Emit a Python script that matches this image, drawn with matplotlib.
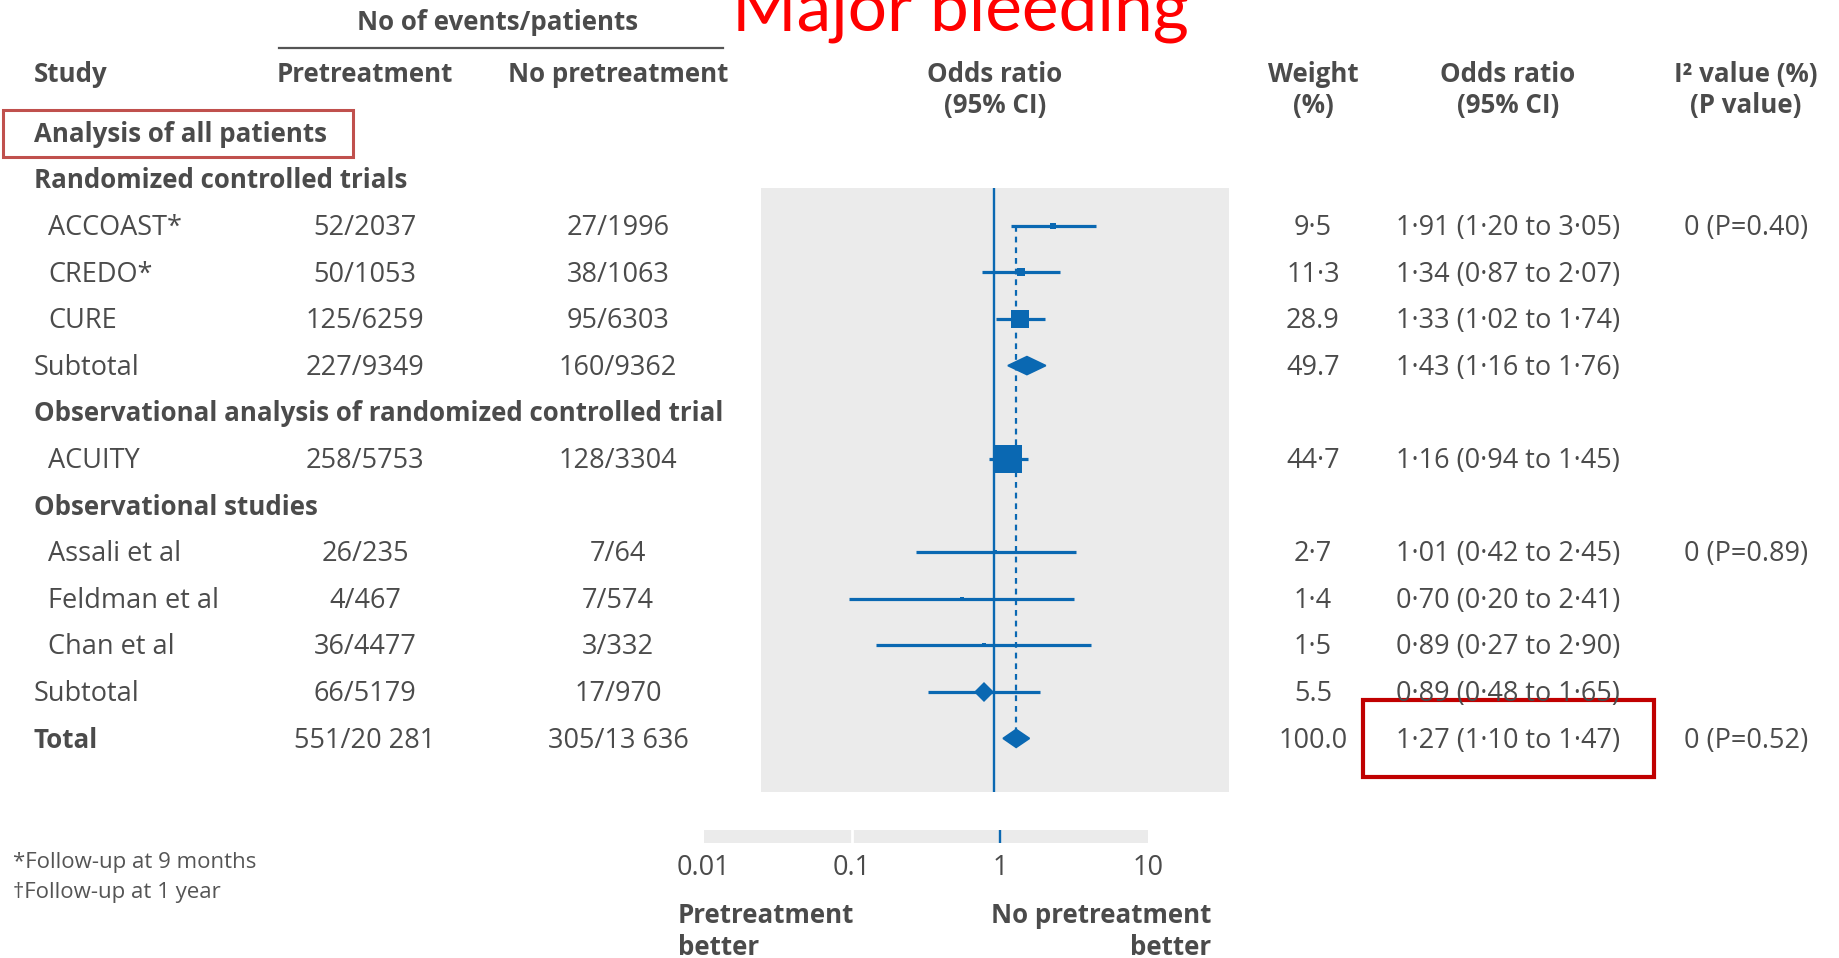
import matplotlib
matplotlib.use('Agg')
import matplotlib.pyplot as plt
from matplotlib.patches import Rectangle, Polygon

plt.rcParams['font.family'] = ['Open Sans', 'DejaVu Sans']

# rows of the table, top to bottom
row_labels = ['Analysis of all patients', 'Randomized controlled trials', 'ACCOAST*', 'CREDO*', 'CURE',
              'Subtotal', 'Observational analysis of randomized controlled trial', 'ACUITY',
              'Observational studies', 'Assali et al', 'Feldman et al', 'Chan et al', 'Subtotal', 'Total']
row_kind = ['group', 'group', 'study', 'study', 'study', 'pooled', 'group', 'study',
            'group', 'study', 'study', 'study', 'pooled_pt', 'total']
pretreat = [None, None, '52/2037', '50/1053', '125/6259', '227/9349', None, '258/5753',
            None, '26/235', '4/467', '36/4477', '66/5179', '551/20 281']
no_pretreat = [None, None, '27/1996', '38/1063', '95/6303', '160/9362', None, '128/3304',
               None, '7/64', '7/574', '3/332', '17/970', '305/13 636']
weight = [None, None, '9·5', '11·3', '28.9', '49.7', None, '44·7',
          None, '2·7', '1·4', '1·5', '5.5', '100.0']
odds = [None, None, 1.91, 1.34, 1.33, 1.43, None, 1.16, None, 1.01, 0.70, 0.89, 0.89, 1.27]
ci_low = [None, None, 1.20, 0.87, 1.02, 1.16, None, 0.94, None, 0.42, 0.20, 0.27, 0.48, 1.10]
ci_high = [None, None, 3.05, 2.07, 1.74, 1.76, None, 1.45, None, 2.45, 2.41, 2.90, 1.65, 1.47]
i2 = [None, None, '0 (P=0.40)', None, None, None, None, None,
      None, '0 (P=0.89)', None, None, None, '0 (P=0.52)']
pooled_total = 1.27

axis_ticks = [0.01, 0.1, 1, 10]
axis_labels = ['0.01', '0.1', '1', '10']

W, H = 1839, 958
blue = '#0a68b2'
grey = '#4b4b4b'
fs = 19.5
fsb = 18.6


def row_y(i):
    return 132.6 + 46.6 * i


fig = plt.figure(figsize=(W / 100, H / 100), dpi=100)
bg = fig.add_axes([0, 0, 1, 1])
bg.set_xlim(0, W)
bg.set_ylim(H, 0)
bg.axis('off')

# title (cut off at the top, as in the original)
bg.text(960, 30.5, 'Major bleeding', color='#ff0000', fontsize=50, family=['Lato', 'DejaVu Sans'],
        ha='center', va='baseline')

# column headers
hb = dict(color=grey, fontsize=fsb, fontweight='bold', va='baseline')
bg.text(498, 29.5, 'No of events/patients', ha='center', **hb)
bg.plot([279, 723], [47.5, 47.5], color='#555555', lw=1.6)
bg.text(34, 81.5, 'Study', ha='left', **hb)
bg.text(365, 81.5, 'Pretreatment', ha='center', **hb)
bg.text(618, 81.5, 'No pretreatment', ha='center', **hb)
bg.text(995, 81.5, 'Odds ratio', ha='center', **hb)
bg.text(995, 113, '(95% CI)', ha='center', **hb)
bg.text(1313, 81.5, 'Weight', ha='center', **hb)
bg.text(1313, 113, '(%)', ha='center', **hb)
bg.text(1508, 81.5, 'Odds ratio', ha='center', **hb)
bg.text(1508, 113, '(95% CI)', ha='center', **hb)
bg.text(1746, 81.5, 'I² value (%)', ha='center', **hb)
bg.text(1746, 113, '(P value)', ha='center', **hb)

# table body
for i, lab in enumerate(row_labels):
    yb = row_y(i) + 9.2
    kind = row_kind[i]
    bold = kind in ('group', 'total')
    x0 = 48 if kind == 'study' else 34
    bg.text(x0, yb, lab, color=grey, fontsize=fsb if bold else fs, va='baseline', ha='left',
            fontweight='bold' if bold else 'normal')
    if pretreat[i] is not None:
        bg.text(365, yb, pretreat[i], color=grey, fontsize=fs, va='baseline', ha='center')
        bg.text(618, yb, no_pretreat[i], color=grey, fontsize=fs, va='baseline', ha='center')
    if weight[i] is not None:
        bg.text(1313, yb, weight[i], color=grey, fontsize=fs, va='baseline', ha='center')
    if odds[i] is not None:
        s = f'{odds[i]:.2f} ({ci_low[i]:.2f} to {ci_high[i]:.2f})'.replace('.', '·')
        bg.text(1508, yb, s, color=grey, fontsize=fs, va='baseline', ha='center')
    if i2[i] is not None:
        bg.text(1746, yb, i2[i], color=grey, fontsize=fs, va='baseline', ha='center')

# highlight boxes
bg.add_patch(Rectangle((3, 110), 350, 47, fill=False, edgecolor='#c0504d', lw=2.2))
bg.add_patch(Rectangle((1363, 700), 291, 77, fill=False, edgecolor='#c00000', lw=3))

# footnotes
bg.text(13, 868, '*Follow-up at 9 months', color='#555555', fontsize=16, va='baseline')
bg.text(13, 898, '†Follow-up at 1 year', color='#555555', fontsize=16, va='baseline')

# forest panel
fx = fig.add_axes([761 / W, 1 - 792 / H, 468 / W, 604 / H])
fx.set_xscale('log')
fx.set_xlim(10 ** -1.118, 10 ** 1.123)
fx.set_ylim(792, 188)
fx.set_facecolor('#ebebeb')
for sp in fx.spines.values():
    sp.set_visible(False)
fx.set_xticks([])
fx.set_yticks([])
fx.minorticks_off()
fx.tick_params(which='both', length=0, labelbottom=False, labelleft=False)

fx.axvline(1, color=blue, lw=1.7, zorder=2)
study_rows = [i for i, k in enumerate(row_kind) if k != 'group']
fx.plot([pooled_total, pooled_total], [row_y(study_rows[0]), row_y(len(row_labels) - 1)],
        color=blue, lw=1.6, ls=(0, (2.6, 2.2)), zorder=2)

for i, k in enumerate(row_kind):
    if odds[i] is None:
        continue
    y = row_y(i)
    if k == 'study':
        w = float(weight[i].replace('·', '.'))
        size_px = max(4.0, 0.63 * w)
        fx.plot([ci_low[i], ci_high[i]], [y, y], color=blue, lw=2.3, solid_capstyle='butt', zorder=3)
        fx.plot(odds[i], y, 's', ms=size_px * 0.72, color=blue, mew=0, zorder=4)
    elif k == 'pooled_pt':
        fx.plot([ci_low[i], ci_high[i]], [y, y], color=blue, lw=2.3, solid_capstyle='butt', zorder=3)
        fx.plot(odds[i], y, 'D', ms=10.5, color=blue, mew=0, zorder=4)
    else:
        fx.add_patch(Polygon([(ci_low[i], y), (odds[i], y - 9), (ci_high[i], y), (odds[i], y + 9)],
                             closed=True, facecolor=blue, edgecolor=blue, lw=1.2, zorder=4))

# scale strip below
sx = fig.add_axes([703.7 / W, 1 - 843 / H, (1148.2 - 703.7) / W, 13 / H])
sx.set_xscale('log')
sx.set_xlim(0.01, 10)
sx.set_facecolor('#ebebeb')
for sp in sx.spines.values():
    sp.set_visible(False)
sx.set_yticks([])
sx.set_xticks(axis_ticks)
sx.set_xticklabels(axis_labels)
sx.minorticks_off()
sx.tick_params(axis='x', length=0, pad=8, labelsize=fs, labelcolor=grey)
sx.axvline(0.1, color='white', lw=2)
sx.axvline(1, color=blue, lw=1.7)

# direction labels
db = dict(color=grey, fontsize=fsb, fontweight='bold', va='baseline')
bg.text(678, 923, 'Pretreatment', ha='left', **db)
bg.text(678, 955, 'better', ha='left', **db)
bg.text(1211, 923, 'No pretreatment', ha='right', **db)
bg.text(1211, 955, 'better', ha='right', **db)

fig.savefig('out.png', dpi=100)
